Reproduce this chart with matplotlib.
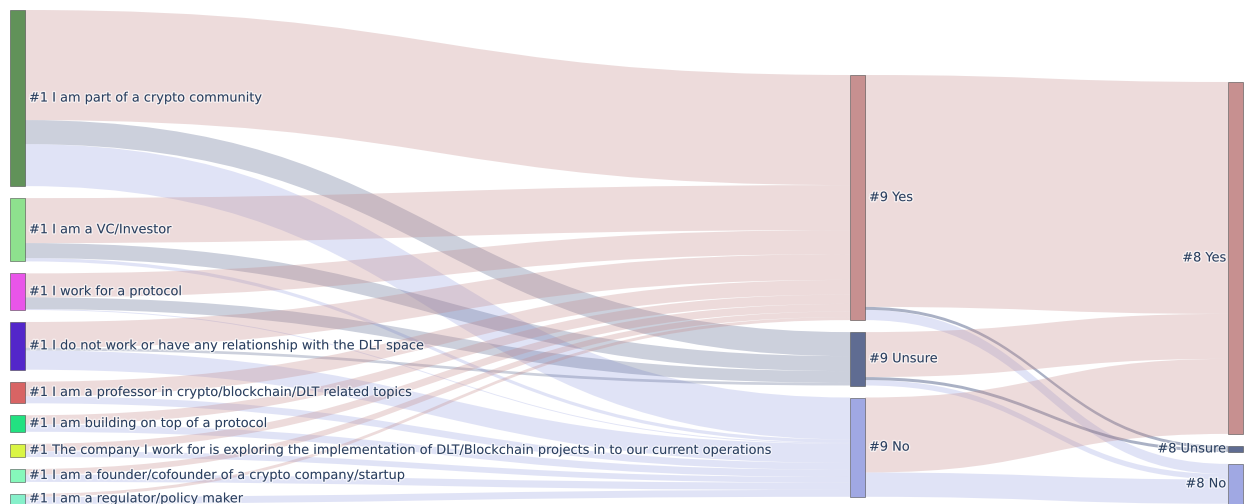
import matplotlib
matplotlib.use("Agg")
import matplotlib.pyplot as plt
from matplotlib.path import Path
from matplotlib.patches import PathPatch, Rectangle
import matplotlib.patheffects as pe

# ---------------- data ----------------
left_labels = [
    "#1 I am part of a crypto community",
    "#1 I am a VC/Investor",
    "#1 I work for a protocol",
    "#1 I do not work or have any relationship with the DLT space",
    "#1 I am a professor in crypto/blockchain/DLT related topics",
    "#1 I am building on top of a protocol",
    "#1 The company I work for is exploring the implementation of DLT/Blockchain projects in to our current operations",
    "#1 I am a founder/cofounder of a crypto company/startup",
    "#1 I am a regulator/policy maker",
]
mid_labels = ["#9 Yes", "#9 Unsure", "#9 No"]
right_labels = ["#8 Yes", "#8 Unsure", "#8 No"]

# answers to #9 (Yes, Unsure, No) per group of #1
q9_yes = [36.7, 15.0, 8.0, 8.6, 4.9, 3.1, 2.5, 1.9, 1.0]
q9_unsure = [8.0, 5.0, 3.9, 0.9, 0.0, 0.0, 0.0, 0.0, 0.0]
q9_no = [14.0, 1.1, 0.3, 6.4, 2.3, 2.4, 1.9, 2.4, 2.3]

# #9 answer -> #8 answer (Yes, Unsure, No)
q8_from_yes = [77.3, 1.0, 3.4]
q8_from_unsure = [15.0, 1.0, 1.8]
q8_from_no = [25.0, 0.0, 8.1]

left_colors = ["#588c50", "#88e088", "#e84ce8", "#4a1ac8", "#d65c5c",
               "#16e07a", "#d8f53a", "#80f8b8", "#80f0c8"]
answer_colors = ["#c48a8a", "#56648c", "#9ba4e2"]

# ---------------- layout ----------------
W, H = 1246, 504
unit = 3.0          # px per respondent
pad = 12
node_w = 15
col_x = [10, 850, 1228]
col_top = [10, 75, 82]

fig = plt.figure(figsize=(W / 100, H / 100), dpi=100)
ax = fig.add_axes([0, 0, 1, 1])
ax.set_xlim(0, W)
ax.set_ylim(H, 0)
ax.axis("off")

# link table: (src col, src idx, dst col, dst idx, value)
links = []
for i in range(len(left_labels)):
    for j, vals in enumerate([q9_yes, q9_unsure, q9_no]):
        if vals[i] > 0:
            links.append((0, i, 1, j, vals[i]))
for i, vals in enumerate([q8_from_yes, q8_from_unsure, q8_from_no]):
    for j in range(3):
        if vals[j] > 0:
            links.append((1, i, 2, j, vals[j]))

# node sizes = max(inflow, outflow)
sizes = [[0.0] * len(left_labels), [0.0] * 3, [0.0] * 3]
for c in range(3):
    for n in range(len(sizes[c])):
        out_v = sum(v for sc, si, dc, di, v in links if sc == c and si == n)
        in_v = sum(v for sc, si, dc, di, v in links if dc == c and di == n)
        sizes[c][n] = max(out_v, in_v)

tops = []
for c in range(3):
    y = col_top[c]
    t = []
    for s in sizes[c]:
        t.append(y)
        y += s * unit + pad
    tops.append(t)

# stacking offsets of links on each node
out_off = {}
in_off = {}
src_cursor = {(c, n): tops[c][n] for c in range(3) for n in range(len(sizes[c]))}
dst_cursor = dict(src_cursor)
for sc, si, dc, di, v in sorted(links, key=lambda l: (l[0], l[1], l[3])):
    out_off[(sc, si, dc, di)] = src_cursor[(sc, si)]
    src_cursor[(sc, si)] += v * unit
for sc, si, dc, di, v in sorted(links, key=lambda l: (l[2], l[3], l[1])):
    in_off[(sc, si, dc, di)] = dst_cursor[(dc, di)]
    dst_cursor[(dc, di)] += v * unit

# draw links
for sc, si, dc, di, v in links:
    x0 = col_x[sc] + node_w
    x1 = col_x[dc]
    xm = (x0 + x1) / 2
    y0 = out_off[(sc, si, dc, di)]
    y1 = in_off[(sc, si, dc, di)]
    h = v * unit
    verts = [(x0, y0), (xm, y0), (xm, y1), (x1, y1),
             (x1, y1 + h), (xm, y1 + h), (xm, y0 + h), (x0, y0 + h), (x0, y0)]
    codes = [Path.MOVETO, Path.CURVE4, Path.CURVE4, Path.CURVE4,
             Path.LINETO, Path.CURVE4, Path.CURVE4, Path.CURVE4, Path.CLOSEPOLY]
    alpha = 0.5 if (dc == 2 and di == 1) else 0.3
    ax.add_patch(PathPatch(Path(verts, codes), facecolor=answer_colors[di],
                           edgecolor="none", alpha=alpha, zorder=1))

# draw nodes and labels
col_labels = [left_labels, mid_labels, right_labels]
col_colors = [left_colors, answer_colors, answer_colors]
halo = [pe.withStroke(linewidth=2, foreground="white", alpha=0.6)]
for c in range(3):
    for n, s in enumerate(sizes[c]):
        y = tops[c][n]
        h = s * unit
        ax.add_patch(Rectangle((col_x[c], y), node_w, h,
                               facecolor=col_colors[c][n], edgecolor="#444444",
                               linewidth=0.4, alpha=0.95, zorder=3))
        yc = y + h / 2
        if c < 2:
            ax.text(col_x[c] + node_w + 4, yc, col_labels[c][n], ha="left",
                    va="center", fontsize=9.3, color="#2a3f5f",
                    family="DejaVu Sans", path_effects=halo, zorder=4)
        else:
            ax.text(col_x[c] - 2, yc, col_labels[c][n], ha="right",
                    va="center", fontsize=9.3, color="#2a3f5f",
                    family="DejaVu Sans", path_effects=halo, zorder=4)

fig.savefig("out.png", dpi=100)
